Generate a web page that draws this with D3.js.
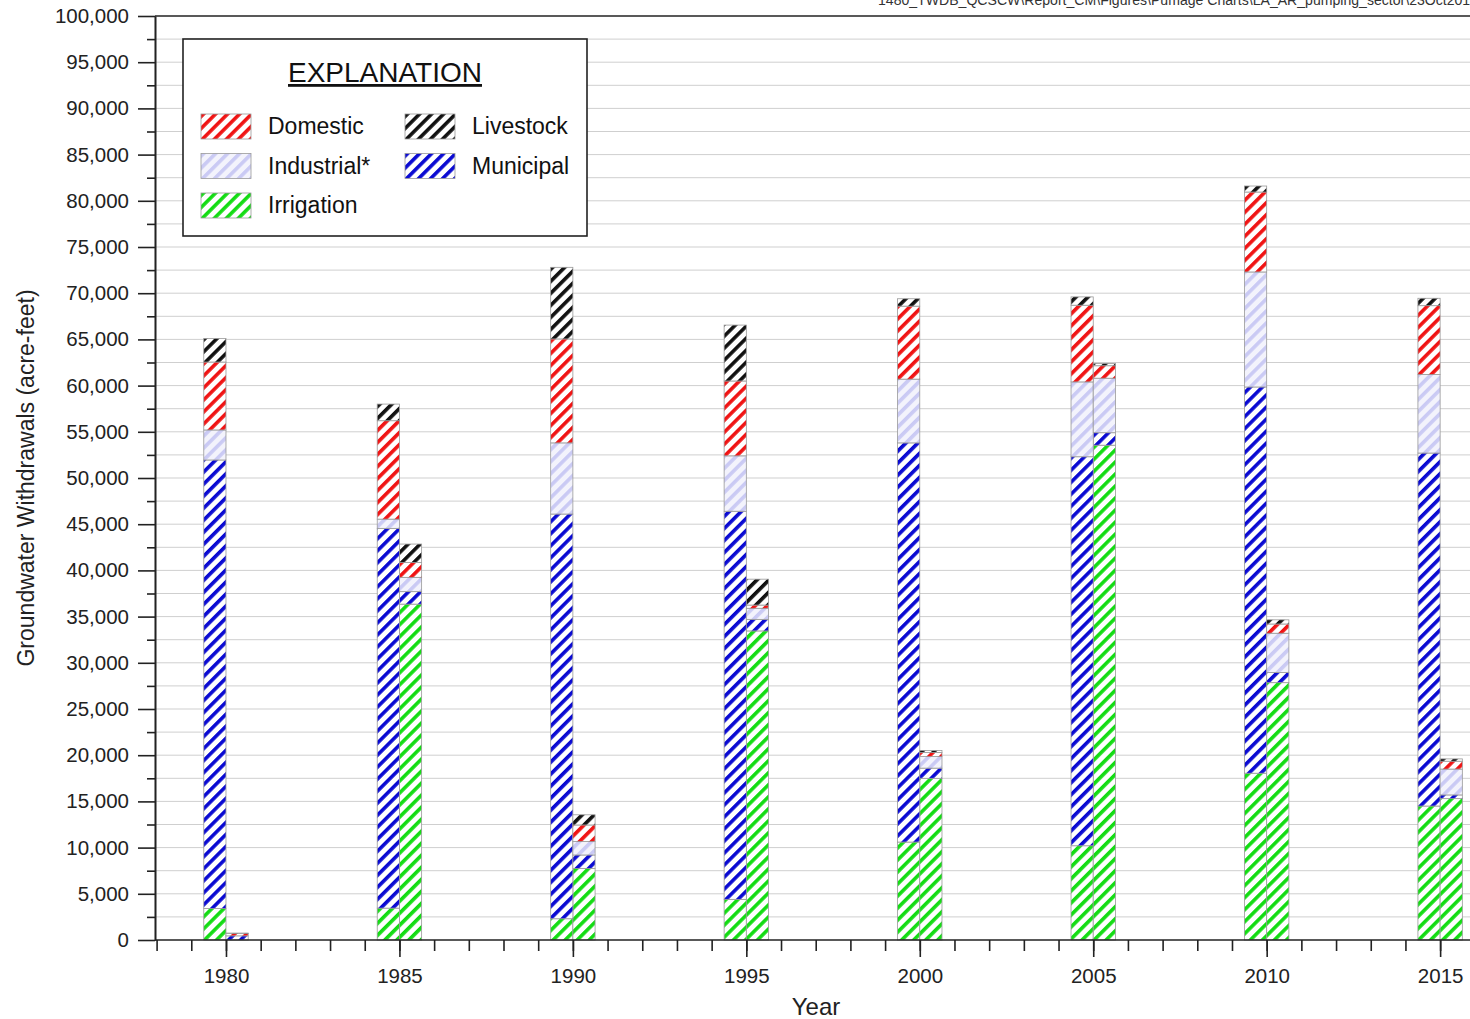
<!DOCTYPE html>
<html>
<head>
<meta charset="utf-8">
<title>LA / AR groundwater withdrawals by sector</title>
<script src="https://d3js.org/d3.v7.min.js"></script>
<style>
  body { margin: 0; background: #fff; }
  svg { font-family: Arial, "Liberation Sans", sans-serif; }
  .grid line { stroke: #cfcfcf; stroke-width: 1; }
  .axis path, .axis line { stroke: #222; stroke-width: 1.6; }
  .axis text { font-size: 20.5px; fill: #222; }
  .seg { stroke: #999; stroke-width: 0.8; }
</style>
</head>
<body>
<script>

// years and sectors (stacked bottom to top)
var years = [1980, 1985, 1990, 1995, 2000, 2005, 2010, 2015];
var sectors = ["Irrigation", "Municipal", "Industrial*", "Domestic", "Livestock"];

// left bar of each pair
var irrigationLA = [3400, 3450, 2300, 4400, 10600, 10200, 18050, 14500];
var municipalLA  = [48550, 41100, 43800, 42000, 43200, 42100, 41800, 38200];
var industrialLA = [3250, 1000, 7700, 6000, 6900, 8100, 12450, 8500];
var domesticLA   = [7350, 10650, 11250, 8100, 7900, 8300, 8650, 7450];
var livestockLA  = [2550, 1800, 7750, 6050, 800, 900, 650, 800];

// right bar of each pair
var irrigationAR = [0, 36350, 7750, 33450, 17500, 53550, 27850, 15300];
var municipalAR  = [450, 1350, 1450, 1250, 1100, 1350, 1100, 400];
var industrialAR = [0, 1550, 1450, 1200, 1250, 5900, 4250, 2800];
var domesticAR   = [250, 1600, 1800, 350, 450, 1350, 1000, 850];
var livestockAR  = [50, 2000, 1100, 2800, 200, 250, 450, 250];

var yTicks = d3.range(0, 100001, 5000);

var W = 1470, H = 1019;
var mLeft = 155, mTop = 16, mBottom = 940;

var svg = d3.select("body").append("svg")
    .attr("width", W)
    .attr("height", H);

// hatch patterns
var hatch = {
  "Irrigation":  {c: "#14dc14", bg: "#fff"},
  "Municipal":   {c: "#0a0ad2", bg: "#fff"},
  "Industrial*": {c: "#cacaf4", bg: "#f3f3fc"},
  "Domestic":    {c: "#f01414", bg: "#fff"},
  "Livestock":   {c: "#111", bg: "#fff"}
};
var defs = svg.append("defs");
sectors.forEach(function(s, i) {
  var p = defs.append("pattern")
      .attr("id", "h" + i)
      .attr("patternUnits", "userSpaceOnUse")
      .attr("width", 8.5).attr("height", 8.5)
      .attr("patternTransform", "rotate(45)");
  p.append("rect").attr("width", 8.5).attr("height", 8.5).attr("fill", hatch[s].bg);
  p.append("rect").attr("width", 3.6).attr("height", 8.5).attr("fill", hatch[s].c);
});

var x = d3.scaleLinear().domain([1978, 2016]).range([156.6, 156.6 + 38 * 34.69]);
var y = d3.scaleLinear().domain([0, 100000]).range([mBottom, mTop]);

// gridlines
svg.append("g").attr("class", "grid")
  .selectAll("line")
  .data(d3.range(2500, 100000, 2500))
  .enter().append("line")
    .attr("x1", mLeft).attr("x2", W)
    .attr("y1", function(d) { return y(d); })
    .attr("y2", function(d) { return y(d); });

svg.append("line")
    .attr("x1", mLeft).attr("x2", W)
    .attr("y1", y(100000)).attr("y2", y(100000))
    .attr("stroke", "#222").attr("stroke-width", 1.6);

// build rows and stack
var cols = {
  LA: [irrigationLA, municipalLA, industrialLA, domesticLA, livestockLA],
  AR: [irrigationAR, municipalAR, industrialAR, domesticAR, livestockAR]
};
var rows = [];
["LA", "AR"].forEach(function(side) {
  years.forEach(function(yr, j) {
    var r = {year: yr, side: side};
    sectors.forEach(function(s, k) { r[s] = cols[side][k][j]; });
    rows.push(r);
  });
});
var series = d3.stack().keys(sectors)(rows);

var barW = 0.64;
svg.append("g").selectAll("g")
  .data(series)
  .enter().append("g")
    .attr("fill", function(d, i) { return "url(#h" + i + ")"; })
  .selectAll("rect")
  .data(function(d) { return d.filter(function(e) { return e[1] > e[0]; }); })
  .enter().append("rect")
    .attr("class", "seg")
    .attr("x", function(d) { return d.data.side == "LA" ? x(d.data.year - barW) : x(d.data.year); })
    .attr("width", x(barW) - x(0))
    .attr("y", function(d) { return y(d[1]); })
    .attr("height", function(d) { return y(d[0]) - y(d[1]); });

// y axis
svg.append("g").attr("class", "axis")
    .attr("transform", "translate(" + mLeft + ",0)")
    .call(d3.axisLeft(y).tickValues(d3.range(2500, 100000, 5000)).tickSize(8).tickFormat("").tickSizeOuter(0));
svg.append("g").attr("class", "axis")
    .attr("transform", "translate(" + mLeft + ",0)")
    .call(d3.axisLeft(y).tickValues(yTicks).tickSize(17).tickPadding(9)
      .tickFormat(d3.format(",")).tickSizeOuter(0));

// x axis
var xb = d3.scaleLinear().domain(x.domain()).range(x.range());
svg.append("g").attr("class", "axis")
    .attr("transform", "translate(0," + mBottom + ")")
    .call(d3.axisBottom(x).tickValues(d3.range(1978, 2017)).tickSize(11).tickFormat("").tickSizeOuter(0))
  .select(".domain").attr("d", "M" + mLeft + ",0H" + W);
svg.append("g").attr("class", "axis")
    .attr("transform", "translate(0," + mBottom + ")")
    .call(d3.axisBottom(x).tickValues(years).tickSize(17).tickPadding(11)
      .tickFormat(d3.format("d")).tickSizeOuter(0))
  .select(".domain").remove();

// axis titles
svg.append("text")
    .attr("transform", "translate(34," + (mTop + mBottom) / 2 + ") rotate(-90)")
    .attr("text-anchor", "middle")
    .attr("font-size", 23).attr("fill", "#222")
    .text("Groundwater Withdrawals (acre-feet)");
svg.append("text")
    .attr("x", 816).attr("y", 1015)
    .attr("text-anchor", "middle")
    .attr("font-size", 24).attr("fill", "#222")
    .text("Year");

// file path header
svg.append("text")
    .attr("x", 878).attr("y", 5)
    .attr("font-size", 14).attr("fill", "#333")
    .attr("textLength", 600).attr("lengthAdjust", "spacingAndGlyphs")
    .text("1480_TWDB_QCSCW\\Report_CM\\Figures\\Pumage Charts\\LA_AR_pumping_sector\\23Oct2019");

// legend
var lg = svg.append("g").attr("transform", "translate(183,39)");
lg.append("rect")
    .attr("width", 404).attr("height", 197)
    .attr("fill", "#fff").attr("stroke", "#222").attr("stroke-width", 1.6);
lg.append("text")
    .attr("x", 202).attr("y", 43)
    .attr("text-anchor", "middle")
    .attr("font-size", 28).attr("fill", "#111")
    .attr("text-decoration", "underline")
    .text("EXPLANATION");

var legendOrder = ["Domestic", "Industrial*", "Irrigation", "Livestock", "Municipal"];
var item = lg.selectAll("g.item")
  .data(legendOrder)
  .enter().append("g")
    .attr("class", "item")
    .attr("transform", function(d, i) {
      var c = i < 3 ? 0 : 1, r = i < 3 ? i : i - 3;
      return "translate(" + (18 + c * 204) + "," + (75 + r * 39.5) + ")";
    });
item.append("rect")
    .attr("width", 50).attr("height", 25)
    .attr("fill", function(d) { return "url(#h" + sectors.indexOf(d) + ")"; })
    .attr("stroke", "#999").attr("stroke-width", 0.8);
item.append("text")
    .attr("x", 67).attr("y", 20)
    .attr("font-size", 23).attr("fill", "#111")
    .text(function(d) { return d; });

</script>
</body>
</html>
